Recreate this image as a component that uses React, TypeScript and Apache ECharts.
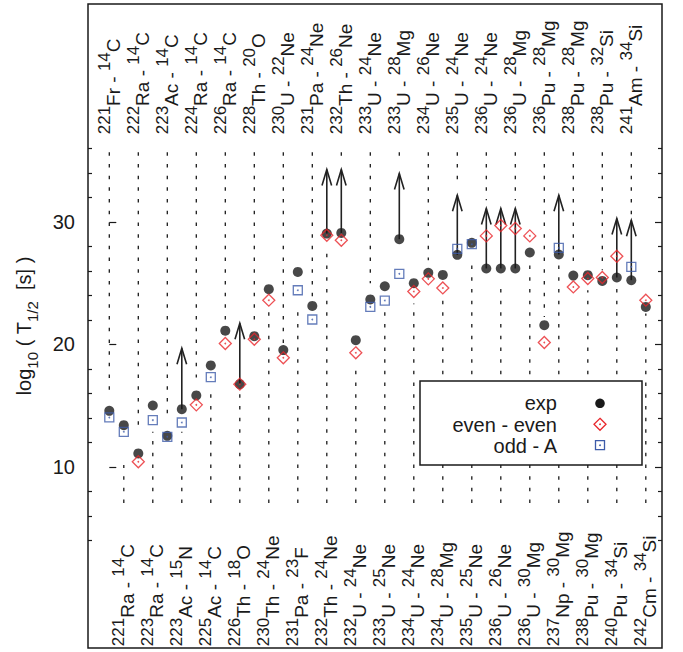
import React, { useEffect, useRef } from 'react';
import * as echarts from 'echarts';

// ---------- data ----------
const decays = [
  '221Fr-14C', '221Ra-14C', '222Ra-14C', '223Ra-14C', '223Ac-14C', '223Ac-15N', '224Ra-14C', '225Ac-14C',
  '226Ra-14C', '226Th-18O', '228Th-20O', '230Th-24Ne', '230U-22Ne', '231Pa-23F', '231Pa-24Ne', '232Th-24Ne',
  '232Th-26Ne', '232U-24Ne', '233U-24Ne', '233U-25Ne', '233U-28Mg', '234U-24Ne', '234U-26Ne', '234U-28Mg',
  '235U-24Ne', '235U-25Ne', '236U-24Ne', '236U-26Ne', '236U-28Mg', '236U-30Mg', '236Pu-28Mg', '237Np-30Mg',
  '238Pu-28Mg', '238Pu-30Mg', '238Pu-32Si', '240Pu-34Si', '241Am-34Si', '242Cm-34Si',
];

const expValues = [
  14.57, 13.4, 11.09, 15.01, 12.53, 14.71, 15.83, 18.28, 21.12, 16.75, 20.67, 24.51, 19.53, 25.92, 23.14, 29.05,
  29.1, 20.34, 23.67, 24.75, 28.59, 25.0, 25.84, 25.67, 27.31, 28.29, 26.2, 26.2, 26.2, 27.5, 21.57, 27.34,
  25.62, 25.65, 25.18, 25.46, 25.24, 23.06,
];

const theoryValues = [
  14.03, 12.86, 10.41, 13.81, 12.45, 13.62, 15.06, 17.32, 20.07, 16.75, 20.42, 23.61, 18.9, 24.42, 22.03, 28.91,
  28.5, 19.31, 23.06, 23.58, 25.76, 24.32, 25.35, 24.61, 27.8, 28.18, 28.86, 29.71, 29.46, 28.86, 20.15, 27.88,
  24.69, 25.38, 25.46, 27.2, 26.33, 23.61,
];

// tips of the lower-limit arrows (null = measured value, no arrow)
const limitTips: (number | null)[] = [
  null, null, null, null, null, 19.69, null, null, null, 21.73, null, null, null, null, null, 34.28,
  34.28, null, null, null, 33.95, null, null, null, 32.18, null, 31.09, 31.09, 31.09, null, null, 32.18,
  null, null, null, 30.28, 30.14, null,
];

// where each dotted guide line stops near the data
const guideNear = [
  15.99, 10.14, 12.9, 12.86, 14.08, 12.86, 17.3, 15.99, 21.8, 15.99, 21.4, 22.79, 20.07, 22.79, 23.61, 27.55,
  35.2, 17.89, 25.0, 22.79, 34.8, 23.34, 26.87, 23.61, 32.86, 26.6, 31.77, 24.97, 31.77, 26.87, 22.24, 26.63,
  26.33, 24.42, 26.06, 24.69, 30.55, 22.52,
];

const majorTicks = [10, 20, 30];
const minorTicks = [4, 6, 8, 12, 14, 16, 18, 22, 24, 26, 28, 32, 34, 36];

// ---------- layout / style constants ----------
const FONT = '"Liberation Sans", Arial, Helvetica, sans-serif';
const INK = '#1a1a1a';
const RED = '#e8262b';
const BLUE = '#3d5ba9';
const Y_MIN = -4.8;
const Y_MAX = 47.8;
const X_MIN = -1.469;
const X_MAX = 38.117;
const TOP_GUIDE_END = 35.69;
const BOTTOM_GUIDE_END = 7.04;
const TOP_LABEL_V = 37.16;
const BOTTOM_LABEL_V = -4.65;

function parseDecay(d: string) {
  const m = d.match(/^(\d+)([A-Za-z]+)-(\d+)([A-Za-z]+)$/)!;
  return { a1: m[1], s1: m[2], a2: m[3], s2: m[4] };
}

const evenEven: [number, number][] = [];
const oddA: [number, number][] = [];
theoryValues.forEach((v, i) => {
  const a = parseInt(parseDecay(decays[i]).a1, 10);
  if (a % 2 === 0) evenEven.push([i, v]);
  else oddA.push([i, v]);
});

const labelRich = {
  m: { font: `19px ${FONT}`, fontSize: 19, fontFamily: FONT, fill: INK, lineHeight: 27, verticalAlign: 'bottom' },
  s: { font: `17px ${FONT}`, fontSize: 17, fontFamily: FONT, fill: INK, lineHeight: 11, verticalAlign: 'top' },
};

function buildOption() {
  const yBase = {
    type: 'value',
    min: Y_MIN,
    max: Y_MAX,
    splitLine: { show: false },
    axisLine: { show: false },
    axisLabel: { show: false },
  };
  const tickStyle = { color: INK, width: 1.2 };
  return {
    animation: false,
    backgroundColor: '#fff',
    grid: {
      left: 88,
      top: 4,
      width: 574,
      height: 644,
      show: true,
      borderColor: INK,
      borderWidth: 1.5,
      backgroundColor: 'transparent',
    },
    xAxis: [{ type: 'value', min: X_MIN, max: X_MAX, show: false }],
    yAxis: [
      {
        ...yBase,
        position: 'left',
        axisTick: { show: true, inside: true, length: 7, customValues: majorTicks, lineStyle: tickStyle },
      },
      {
        ...yBase,
        position: 'left',
        axisTick: { show: true, inside: true, length: 4, customValues: minorTicks, lineStyle: tickStyle },
      },
      {
        ...yBase,
        position: 'right',
        axisTick: { show: true, inside: true, length: 7, customValues: majorTicks, lineStyle: tickStyle },
      },
      {
        ...yBase,
        position: 'right',
        axisTick: { show: true, inside: true, length: 4, customValues: minorTicks, lineStyle: tickStyle },
      },
    ],
    series: [
      {
        type: 'custom',
        name: 'guides',
        silent: true,
        z: 1,
        data: guideNear.map((v, i) => [i, v, i % 2 === 0 ? TOP_GUIDE_END : BOTTOM_GUIDE_END]),
        renderItem: (params: any, api: any) => {
          const p1 = api.coord([api.value(0), api.value(2)]);
          const p2 = api.coord([api.value(0), api.value(1)]);
          return {
            type: 'line',
            shape: { x1: p1[0], y1: p1[1], x2: p2[0], y2: p2[1] },
            style: { stroke: INK, lineWidth: 1.3, lineDash: [3.5, 8.2], fill: 'none' },
          };
        },
      },
      {
        type: 'custom',
        name: 'limits',
        silent: true,
        z: 2,
        data: limitTips
          .map((t, i) => (t == null ? null : [i, expValues[i], t]))
          .filter((x) => x != null),
        renderItem: (params: any, api: any) => {
          const base = api.coord([api.value(0), api.value(1)]);
          const tip = api.coord([api.value(0), api.value(2)]);
          const st = { stroke: '#222', lineWidth: 1.6, fill: 'none' };
          return {
            type: 'group',
            children: [
              { type: 'line', shape: { x1: base[0], y1: base[1], x2: tip[0], y2: tip[1] }, style: st },
              {
                type: 'polyline',
                shape: { points: [[tip[0] - 4.8, tip[1] + 16], [tip[0], tip[1]], [tip[0] + 4.8, tip[1] + 16]] },
                style: st,
              },
            ],
          };
        },
      },
      {
        type: 'scatter',
        name: 'exp',
        z: 3,
        symbol: 'circle',
        symbolSize: 10,
        itemStyle: { color: INK },
        data: expValues.map((v, i) => [i, v]),
      },
      {
        type: 'scatter',
        name: 'even - even',
        z: 4,
        symbol: 'diamond',
        symbolSize: [12, 12],
        itemStyle: { color: 'rgba(0,0,0,0)', borderColor: RED, borderWidth: 1.3 },
        data: evenEven,
      },
      {
        type: 'scatter',
        name: 'odd - A',
        z: 4,
        symbol: 'rect',
        symbolSize: 9,
        itemStyle: { color: 'rgba(0,0,0,0)', borderColor: BLUE, borderWidth: 1.3 },
        data: oddA,
      },
      {
        type: 'scatter',
        z: 5,
        symbol: 'circle',
        symbolSize: 1.8,
        itemStyle: { color: RED },
        data: evenEven,
      },
      {
        type: 'scatter',
        z: 5,
        symbol: 'circle',
        symbolSize: 1.8,
        itemStyle: { color: BLUE },
        data: oddA,
      },
    ],
  };
}

function buildGraphics(chart: any) {
  const toPx = (x: number, y: number) => chart.convertToPixel({ xAxisIndex: 0, yAxisIndex: 0 }, [x, y]);
  const LZ = 100;
  const els: any[] = [];

  // isotope labels (top for even positions, bottom for odd)
  decays.forEach((d, i) => {
    const p = toPx(i, i % 2 === 0 ? TOP_LABEL_V : BOTTOM_LABEL_V);
    const q = parseDecay(d);
    els.push({
      type: 'text',
      x: p[0],
      y: p[1],
      rotation: Math.PI / 2,
      silent: true,
      style: {
        text: `{s|${q.a1}}{m|${q.s1} - }{s|${q.a2}}{m|${q.s2}}`,
        rich: labelRich,
        font: `19px ${FONT}`,
        align: 'left',
        verticalAlign: 'middle',
        fill: INK,
      },
    });
  });

  // y tick labels
  majorTicks.forEach((v) => {
    const p = toPx(X_MIN, v);
    els.push({
      type: 'text',
      x: p[0] - 13,
      y: p[1],
      silent: true,
      style: { text: String(v), align: 'right', verticalAlign: 'middle', font: `20px ${FONT}`, fill: INK },
    });
  });

  // y axis title
  els.push({
    type: 'text',
    x: 27,
    y: 326,
    rotation: Math.PI / 2,
    silent: true,
    style: {
      text: '{m|log}{b|10}{m| ( T}{b|1/2}{m|  [s] )}',
      rich: {
        m: { font: `20px ${FONT}`, fontSize: 20, fontFamily: FONT, fill: INK, lineHeight: 26, verticalAlign: 'top' },
        b: { font: `15px ${FONT}`, fontSize: 15, fontFamily: FONT, fill: INK, lineHeight: 12, verticalAlign: 'bottom' },
      },
      align: 'center',
      verticalAlign: 'middle',
      fill: INK,
    },
  });

  // legend
  els.push(
    {
      type: 'rect',
      z: LZ,
      shape: { x: 420, y: 381, width: 222, height: 84 },
      style: { fill: '#fff', stroke: INK, lineWidth: 1.5 },
    },
    {
      type: 'text', z: LZ + 1, x: 557, y: 403,
      style: { text: 'exp', align: 'right', verticalAlign: 'middle', font: `20px ${FONT}`, fill: INK },
    },
    {
      type: 'text', z: LZ + 1, x: 557, y: 424.5,
      style: { text: 'even - even', align: 'right', verticalAlign: 'middle', font: `20px ${FONT}`, fill: INK },
    },
    {
      type: 'text', z: LZ + 1, x: 557, y: 446,
      style: { text: 'odd - A', align: 'right', verticalAlign: 'middle', font: `20px ${FONT}`, fill: INK },
    },
    { type: 'circle', z: LZ + 1, shape: { cx: 600, cy: 403.3, r: 4.8 }, style: { fill: INK } },
    {
      type: 'polygon', z: LZ + 1,
      shape: { points: [[600, 418.3], [606, 424.3], [600, 430.3], [594, 424.3]] },
      style: { fill: 'none', stroke: RED, lineWidth: 1.3 },
    },
    { type: 'circle', z: LZ + 1, shape: { cx: 600, cy: 424.3, r: 0.9 }, style: { fill: RED } },
    {
      type: 'rect', z: LZ + 1,
      shape: { x: 595.5, y: 440.7, width: 9, height: 9 },
      style: { fill: 'none', stroke: BLUE, lineWidth: 1.3 },
    },
    { type: 'circle', z: LZ + 1, shape: { cx: 600, cy: 445.2, r: 0.9 }, style: { fill: BLUE } },
  );
  return els;
}

export default function App() {
  const ref = useRef<HTMLDivElement>(null);
  useEffect(() => {
    if (!ref.current) return;
    const chart = echarts.init(ref.current, null, { renderer: 'svg' });
    chart.setOption(buildOption() as any);
    chart.setOption({ graphic: buildGraphics(chart) } as any);
    return () => chart.dispose();
  }, []);
  return (
    <div
      ref={ref}
      style={{ position: 'fixed', left: 0, top: 0, width: 683, height: 652, background: '#fff' }}
    />
  );
}
